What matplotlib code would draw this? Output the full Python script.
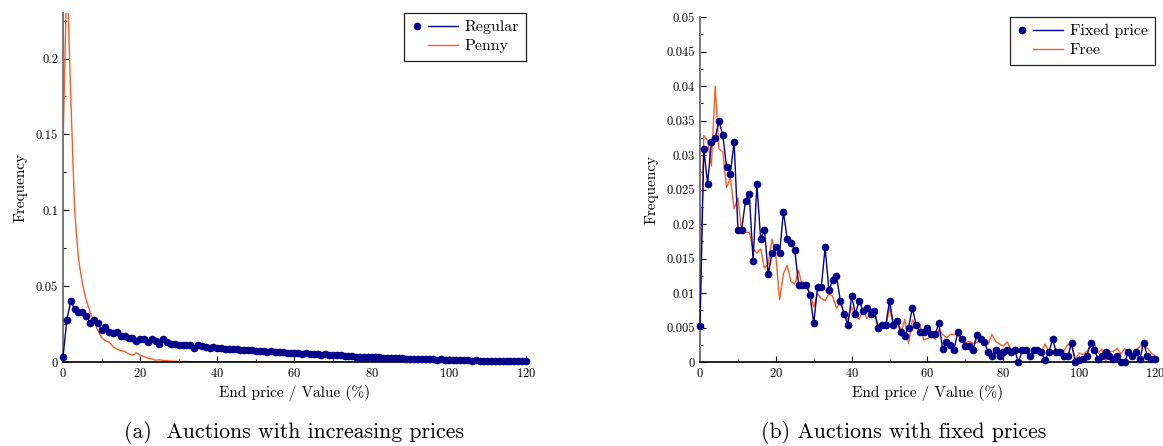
import matplotlib
matplotlib.use("Agg")
from matplotlib import pyplot as plt
from matplotlib.lines import Line2D
from matplotlib.legend_handler import HandlerBase
from matplotlib.ticker import MultipleLocator

plt.rcParams["font.family"] = "cmr10"
plt.rcParams["mathtext.fontset"] = "cm"
plt.rcParams["axes.formatter.use_mathtext"] = True

BLUE = "#00008B"
ORANGE = "#FF5A1F"

x = list(range(121))

# (a) increasing prices
regular = [0.0035, 0.028, 0.040, 0.035, 0.033, 0.033, 0.030, 0.026, 0.028, 0.026,
           0.021, 0.023, 0.020, 0.019, 0.020, 0.017, 0.017, 0.016, 0.016, 0.014,
           0.015, 0.015, 0.013, 0.015, 0.014, 0.012, 0.015, 0.013, 0.012, 0.012,
           0.011, 0.011, 0.011, 0.011, 0.009, 0.011, 0.0105, 0.010, 0.0095, 0.010,
           0.009, 0.0092, 0.0088, 0.0085, 0.0087, 0.0083, 0.0082, 0.0080, 0.0078, 0.0077,
           0.0072, 0.0070, 0.0074, 0.0068, 0.0072, 0.0065, 0.0063, 0.0066, 0.0060, 0.0062,
           0.0058, 0.0060, 0.0055, 0.0057, 0.0052, 0.0054, 0.0050, 0.0048, 0.0051, 0.0046,
           0.0045, 0.0043, 0.0045, 0.0040, 0.0038, 0.0040, 0.0036, 0.0035, 0.0033, 0.0034,
           0.0031, 0.0030, 0.0031, 0.0028, 0.0027, 0.0028, 0.0025, 0.0024, 0.0025, 0.0022,
           0.0021, 0.0022, 0.0020, 0.0019, 0.0020, 0.0018, 0.0017, 0.0016, 0.0017, 0.0015,
           0.0014, 0.0013, 0.0014, 0.0012, 0.0012, 0.0011, 0.0010, 0.0011, 0.0009, 0.0010,
           0.0009, 0.0008, 0.0009, 0.0008, 0.0007, 0.0008, 0.0007, 0.0007, 0.0006, 0.0007,
           0.0006]

penny = [0.142, 0.26, 0.175, 0.100, 0.068, 0.052, 0.041, 0.033, 0.027, 0.021,
         0.016, 0.014, 0.013, 0.010, 0.0085, 0.0075, 0.007, 0.0055, 0.0045, 0.006,
         0.0045, 0.0035, 0.0025, 0.002, 0.0012, 0.0015, 0.001, 0.0008, 0.0006, 0.0005,
         0.0004, 0.0003, 0.0003, 0.0002, 0.0002, 0.0001, 0.0001, 0.0001, 0.0001, 0.0001] + [0.0] * 81

# (b) fixed prices
fixed = [0.0052, 0.0309, 0.0258, 0.0319, 0.0325, 0.0349, 0.0329, 0.0283, 0.0273, 0.0319,
         0.0192, 0.0192, 0.0234, 0.0244, 0.0147, 0.0258, 0.0178, 0.0192, 0.0127, 0.0158,
         0.0167, 0.0158, 0.0218, 0.0178, 0.0172, 0.0163, 0.0112, 0.0112, 0.0112, 0.0097,
         0.0056, 0.0109, 0.0109, 0.0166, 0.0104, 0.0119, 0.0125, 0.0089, 0.0070, 0.0054,
         0.0095, 0.0070, 0.0089, 0.0074, 0.0078, 0.0070, 0.0074, 0.0050, 0.0054, 0.0054,
         0.0089, 0.0054, 0.0060, 0.0044, 0.0038, 0.0050, 0.0078, 0.0054, 0.0044, 0.0044,
         0.0050, 0.0040, 0.0040, 0.0056, 0.0019, 0.0029, 0.0024, 0.0018, 0.0044, 0.0034,
         0.0023, 0.0023, 0.0017, 0.0039, 0.0034, 0.0029, 0.0014, 0.0008, 0.0017, 0.0008,
         0.0014, 0.0017, 0.0014, 0.0017, 0.0000, 0.0017, 0.0017, 0.0008, 0.0017, 0.0017,
         0.0014, 0.0003, 0.0014, 0.0033, 0.0014, 0.0014, 0.0008, 0.0008, 0.0028, 0.0000,
         0.0003, 0.0004, 0.0008, 0.0028, 0.0018, 0.0004, 0.0008, 0.0014, 0.0008, 0.0004,
         0.0008, 0.0000, 0.0000, 0.0014, 0.0008, 0.0014, 0.0004, 0.0028, 0.0008, 0.0004,
         0.0004]

free = [0.0070, 0.0328, 0.0321, 0.0284, 0.0400, 0.0309, 0.0305, 0.0253, 0.0267, 0.0222,
        0.0238, 0.0188, 0.0188, 0.0188, 0.0164, 0.0158, 0.0164, 0.0136, 0.0142, 0.0178,
        0.0154, 0.0090, 0.0128, 0.0140, 0.0117, 0.0113, 0.0133, 0.0109, 0.0109, 0.0101,
        0.0080, 0.0099, 0.0092, 0.0089, 0.0099, 0.0095, 0.0078, 0.0086, 0.0071, 0.0061,
        0.0080, 0.0066, 0.0062, 0.0075, 0.0063, 0.0071, 0.0074, 0.0044, 0.0056, 0.0049,
        0.0080, 0.0050, 0.0057, 0.0042, 0.0062, 0.0027, 0.0061, 0.0052, 0.0055, 0.0032,
        0.0034, 0.0038, 0.0033, 0.0047, 0.0040, 0.0035, 0.0040, 0.0040, 0.0040, 0.0030,
        0.0028, 0.0030, 0.0027, 0.0028, 0.0033, 0.0030, 0.0026, 0.0040, 0.0030, 0.0026,
        0.0023, 0.0029, 0.0019, 0.0016, 0.0014, 0.0014, 0.0019, 0.0011, 0.0014, 0.0019,
        0.0014, 0.0026, 0.0015, 0.0014, 0.0018, 0.0012, 0.0016, 0.0026, 0.0022, 0.0004,
        0.0013, 0.0011, 0.0015, 0.0022, 0.0028, 0.0013, 0.0019, 0.0001, 0.0015, 0.0015,
        0.0020, 0.0012, 0.0019, 0.0014, 0.0009, 0.0016, 0.0023, 0.0023, 0.0020, 0.0013,
        0.0009]

fig = plt.figure(figsize=(11.63, 4.46), dpi=100)
ax1 = fig.add_axes([0.0542, 0.1883, 0.398, 0.7825])
ax2 = fig.add_axes([0.6019, 0.1883, 0.3912, 0.7735])


class DotLine(HandlerBase):
    # pgfplots style legend entry: mark on the left, then the line
    def __init__(self, dot):
        super().__init__()
        self.dot = dot

    def create_artists(self, legend, orig_handle, xdescent, ydescent, width, height, fontsize, trans):
        y = height / 2 - ydescent
        x0 = -xdescent
        arts = [Line2D([x0 + 0.36 * width, x0 + width], [y, y], color=orig_handle.get_color(), lw=1,
                       transform=trans)]
        if self.dot:
            arts.append(Line2D([x0 + 0.12 * width], [y], ls="none", marker="o", markersize=4.5,
                               color=BLUE, transform=trans))
        return arts


def style(ax, ymax, ymaj, ymin):
    ax.set_xlim(0, 120)
    ax.set_ylim(0, ymax)
    ax.xaxis.set_major_locator(MultipleLocator(20))
    ax.xaxis.set_minor_locator(MultipleLocator(10))
    ax.yaxis.set_major_locator(MultipleLocator(ymaj))
    ax.yaxis.set_minor_locator(MultipleLocator(ymin))
    ax.tick_params(which="both", direction="in", labelsize=9, width=0.8)
    ax.tick_params(which="major", length=4)
    ax.tick_params(which="minor", length=2)
    ax.tick_params(top=False, right=False)
    ax.spines["top"].set_visible(False)
    ax.spines["right"].set_visible(False)
    ax.spines["left"].set_color("#777777")
    ax.spines["left"].set_linewidth(1.4)
    ax.spines["bottom"].set_color("black")
    ax.spines["bottom"].set_linewidth(1.2)
    ax.set_xlabel("End price / Value (%)", fontsize=11, labelpad=4)
    ax.set_ylabel("Frequency", fontsize=11, labelpad=6)
    ax.yaxis.set_major_formatter(plt.FuncFormatter(lambda v, p: "0" if v == 0 else ("%g" % round(v, 4))))


def legend(ax, labels):
    hb = Line2D([], [], color=BLUE)
    ho = Line2D([], [], color=ORANGE)
    leg = ax.legend([hb, ho], labels, handler_map={hb: DotLine(True), ho: DotLine(False)},
                    loc="upper right", fontsize=11.5, handlelength=2.9, fancybox=False, framealpha=1,
                    edgecolor="#222222", borderaxespad=0.0, labelspacing=0.3, handletextpad=0.42,
                    borderpad=0.45)
    leg.get_frame().set_linewidth(0.9)


ax1.plot(x, regular, color=BLUE, lw=1, marker="o", markersize=4.5, clip_on=False, zorder=3)
ax1.plot(x, penny, color=ORANGE, lw=1, zorder=2)
style(ax1, 0.23, 0.05, 0.025)
legend(ax1, ["Regular", "Penny"])

ax2.plot(x, fixed, color=BLUE, lw=1, marker="o", markersize=4.5, clip_on=False, zorder=3)
ax2.plot(x, free, color=ORANGE, lw=1, zorder=2)
style(ax2, 0.05, 0.005, 0.0025)
legend(ax2, ["Fixed price", "Free"])

fig.text(0.2532, 0.03, "(a)  Auctions with increasing prices", ha="center", va="center", fontsize=15.7)
fig.text(0.7768, 0.03, "(b) Auctions with fixed prices", ha="center", va="center", fontsize=15.7)

plt.savefig("out.png", dpi=100)
